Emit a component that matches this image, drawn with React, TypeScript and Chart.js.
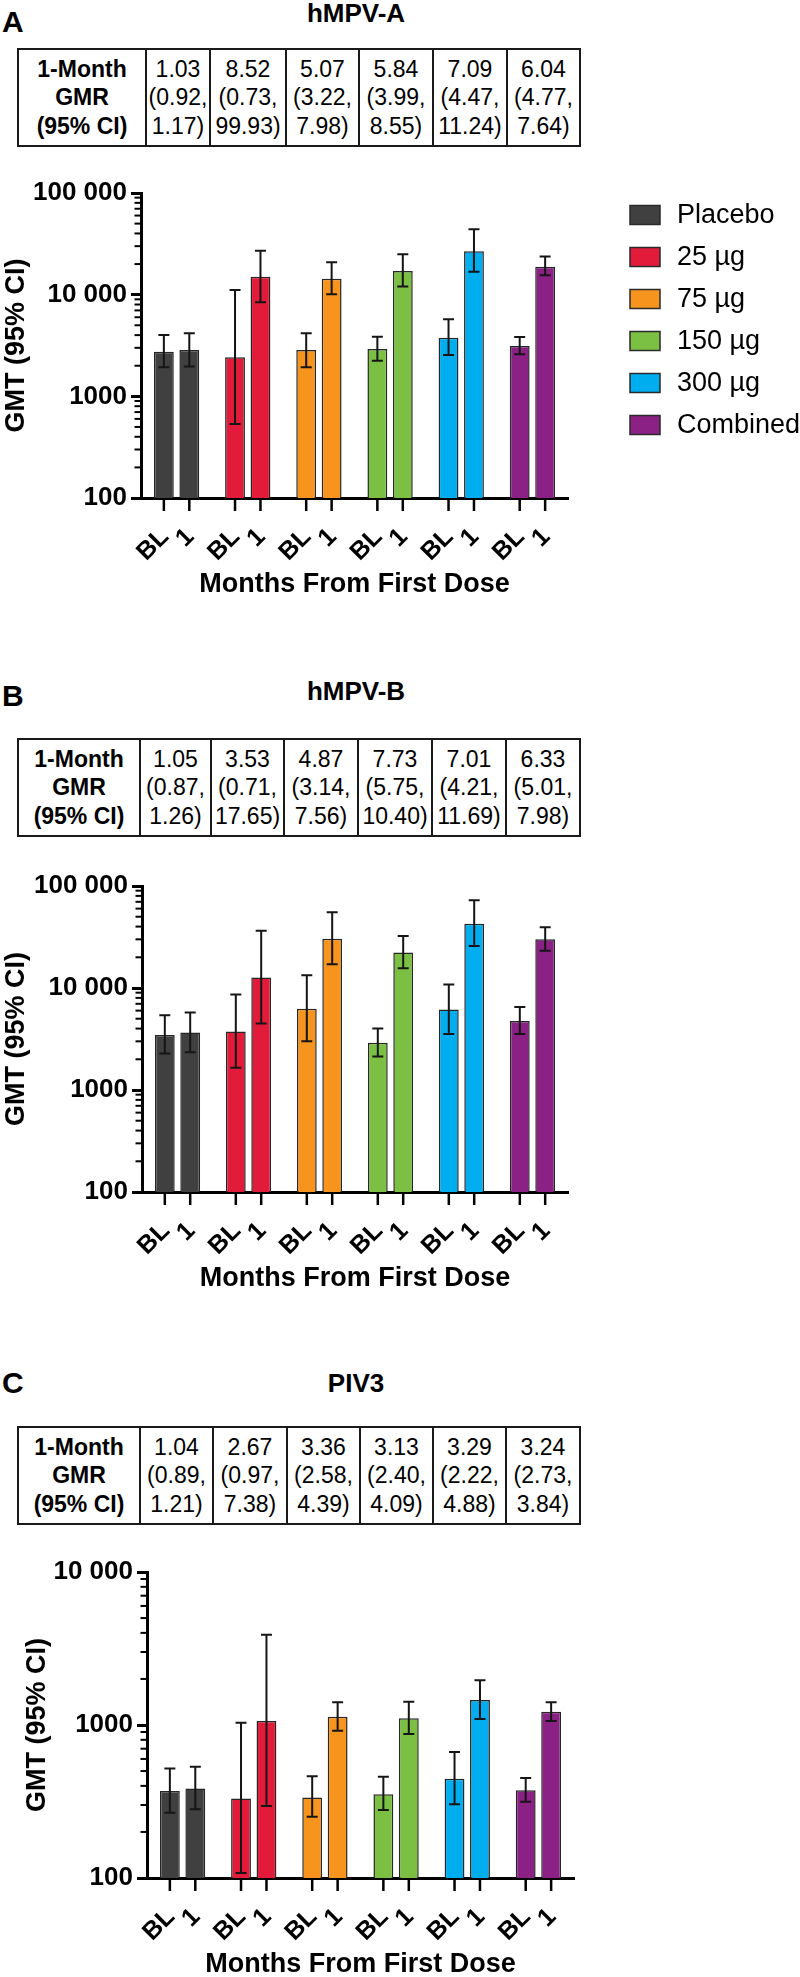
import React, { useEffect, useRef } from "react";
import { Chart, registerables } from "chart.js";

Chart.register(...registerables);

const FONT = "'Liberation Sans', Arial, Helvetica, sans-serif";

// ---- shared categories / labels ----
const groups = ["Placebo", "25 µg", "75 µg", "150 µg", "300 µg", "Combined"];
const groupColors = ["#404040", "#E31B3B", "#F7941D", "#7BC043", "#00ADEF", "#8B2185"];
const visits = ["BL", "1"];
const xAxisTitle = "Months From First Dose";
const yAxisTitle = "GMT (95% CI)";
const rowHeader = ["1-Month", "GMR", "(95% CI)"];

// ---- Panel A: hMPV-A ----
const aBL = [2750, 2420, 2860, 2920, 3770, 3130];
const aBLLo = [1930, 534, 1930, 2240, 2550, 2590];
const aBLHi = [4010, 11100, 4170, 3860, 5730, 3830];
const aM1 = [2860, 15000, 14300, 17100, 26700, 18800];
const aM1Lo = [1960, 8410, 10100, 12000, 16800, 15500];
const aM1Hi = [4170, 27100, 20800, 25000, 44000, 23800];
const gmrA = ["1.03", "8.52", "5.07", "5.84", "7.09", "6.04"];
const gmrALo = ["0.92", "0.73", "3.22", "3.99", "4.47", "4.77"];
const gmrAHi = ["1.17", "99.93", "7.98", "8.55", "11.24", "7.64"];

// ---- Panel B: hMPV-B ----
const bBL = [3470, 3750, 6250, 2900, 6170, 4740];
const bBLLo = [2280, 1650, 3010, 2130, 3550, 3550];
const bBLHi = [5420, 8650, 13300, 4010, 10800, 6500];
const bM1 = [3670, 12700, 30400, 22300, 42700, 30000];
const bM1Lo = [2350, 4490, 17100, 15600, 25800, 23200];
const bM1Hi = [5760, 36400, 55200, 32300, 72400, 39300];
const gmrB = ["1.05", "3.53", "4.87", "7.73", "7.01", "6.33"];
const gmrBLo = ["0.87", "0.71", "3.14", "5.75", "4.21", "5.01"];
const gmrBHi = ["1.26", "17.65", "7.56", "10.40", "11.69", "7.98"];

// ---- Panel C: PIV3 ----
const cBL = [370, 331, 336, 353, 445, 375];
const cBLLo = [267, 108, 251, 278, 303, 315];
const cBLHi = [520, 1035, 463, 459, 666, 450];
const cM1 = [385, 1062, 1134, 1106, 1458, 1222];
const cM1Lo = [281, 295, 918, 873, 1095, 1062];
const cM1Hi = [533, 3884, 1408, 1421, 1962, 1408];
const gmrC = ["1.04", "2.67", "3.36", "3.13", "3.29", "3.24"];
const gmrCLo = ["0.89", "0.97", "2.58", "2.40", "2.22", "2.73"];
const gmrCHi = ["1.21", "7.38", "4.39", "4.09", "4.88", "3.84"];

// ---- y tick values / labels ----
const yTicksAB = [100, 1000, 10000, 100000];
const yTickLabelsAB = ["100", "1000", "10 000", "100 000"];
const yTicksC = [100, 1000, 10000];
const yTickLabelsC = ["100", "1000", "10 000"];

// ---------- plugins ----------
const errorBarPlugin = {
  id: "errorBars",
  afterDatasetsDraw(chart: any) {
    const ctx = chart.ctx;
    const ys = chart.scales.y;
    ctx.save();
    ctx.strokeStyle = "#151515";
    ctx.lineWidth = 2;
    chart.data.datasets.forEach((ds: any, di: number) => {
      const meta = chart.getDatasetMeta(di);
      meta.data.forEach((el: any, i: number) => {
        const x = el.x;
        const yl = ys.getPixelForValue(ds.errLo[i]);
        const yh = ys.getPixelForValue(ds.errHi[i]);
        ctx.beginPath();
        ctx.moveTo(x, yl);
        ctx.lineTo(x, yh);
        ctx.moveTo(x - 5.5, yh);
        ctx.lineTo(x + 5.5, yh);
        ctx.moveTo(x - 5.5, yl);
        ctx.lineTo(x + 5.5, yl);
        ctx.stroke();
      });
    });
    ctx.restore();
  },
};

const axisDecorPlugin = {
  id: "axisDecor",
  afterDraw(chart: any) {
    const ctx = chart.ctx;
    const xs = chart.scales.x;
    const ys = chart.scales.y;
    const area = chart.chartArea;
    ctx.save();
    ctx.strokeStyle = "#000";
    // minor log ticks on the y axis
    ctx.lineWidth = 2;
    const e0 = Math.round(Math.log10(ys.min));
    const e1 = Math.round(Math.log10(ys.max));
    for (let e = e0; e < e1; e++) {
      for (let m = 2; m <= 9; m++) {
        const y = ys.getPixelForValue(m * Math.pow(10, e));
        ctx.beginPath();
        ctx.moveTo(area.left - 6.5, y);
        ctx.lineTo(area.left, y);
        ctx.stroke();
      }
    }
    // x ticks under every bar + rotated visit labels
    ctx.lineWidth = 2.5;
    ctx.fillStyle = "#000";
    ctx.font = `bold 25px ${FONT}`;
    ctx.textAlign = "right";
    ctx.textBaseline = "middle";
    chart.data.datasets.forEach((ds: any, di: number) => {
      chart.getDatasetMeta(di).data.forEach((el: any) => {
        const x = el.x;
        ctx.beginPath();
        ctx.moveTo(x, xs.top);
        ctx.lineTo(x, xs.top + 13);
        ctx.stroke();
        ctx.save();
        ctx.translate(x + 1, xs.top + 35);
        ctx.rotate(-Math.PI / 4);
        ctx.fillText(visits[di], 0, 0);
        ctx.restore();
      });
    });
    ctx.restore();
  },
};

const legendPlugin = {
  id: "sideLegend",
  afterDraw(chart: any) {
    const ctx = chart.ctx;
    const a = chart.chartArea;
    ctx.save();
    ctx.font = `27px ${FONT}`;
    ctx.textBaseline = "middle";
    ctx.textAlign = "left";
    groups.forEach((g, i) => {
      const cy = a.top + 22 + i * 42;
      const x0 = a.right + 62;
      ctx.fillStyle = groupColors[i];
      ctx.fillRect(x0, cy - 9.5, 30, 19);
      ctx.strokeStyle = "#2a2a2a";
      ctx.lineWidth = 1.5;
      ctx.strokeRect(x0, cy - 9.5, 30, 19);
      ctx.fillStyle = "#000";
      ctx.fillText(g, x0 + 47, cy + 1);
    });
    ctx.restore();
  },
};

// ---------- components ----------
type PanelProps = {
  top: number;
  height: number;
  padLeft: number;
  yWidth: number;
  padRight: number;
  yMin: number;
  yMax: number;
  yTicks: number[];
  yTickLabels: string[];
  bl: number[];
  blLo: number[];
  blHi: number[];
  m1: number[];
  m1Lo: number[];
  m1Hi: number[];
  legend?: boolean;
};

function BarPanel(p: PanelProps) {
  const ref = useRef<HTMLCanvasElement | null>(null);
  useEffect(() => {
    if (!ref.current) return;
    const common = {
      backgroundColor: groupColors,
      borderColor: "#262626",
      borderWidth: 1.5,
      categoryPercentage: 0.715,
      barPercentage: 0.78,
    };
    const chart = new Chart(ref.current, {
      type: "bar",
      data: {
        labels: groups,
        datasets: [
          { label: visits[0], data: p.bl, errLo: p.blLo, errHi: p.blHi, ...common } as any,
          { label: visits[1], data: p.m1, errLo: p.m1Lo, errHi: p.m1Hi, ...common } as any,
        ],
      },
      options: {
        animation: false,
        responsive: false,
        maintainAspectRatio: false,
        layout: { padding: { top: 33, left: p.padLeft, right: p.padRight, bottom: 0 } },
        plugins: { legend: { display: false }, tooltip: { enabled: false } },
        scales: {
          x: {
            type: "category",
            z: 1,
            grid: { display: false },
            ticks: { display: false },
            border: { display: true, color: "#000", width: 3 },
            title: {
              display: true,
              text: xAxisTitle,
              color: "#000",
              font: { family: FONT, size: 27, weight: "bold" },
              padding: { top: 0, bottom: 1 },
            },
            afterFit: (s: any) => {
              s.height = 104;
            },
          },
          y: {
            type: "logarithmic",
            z: 1,
            min: p.yMin,
            max: p.yMax,
            afterBuildTicks: (s: any) => {
              s.ticks = p.yTicks.map((v) => ({ value: v }));
            },
            ticks: {
              autoSkip: false,
              padding: 4,
              color: "#000",
              font: { family: FONT, size: 26, weight: "bold" },
              callback: (_v: any, i: number) => p.yTickLabels[i],
            },
            grid: {
              display: true,
              drawOnChartArea: false,
              drawTicks: true,
              tickLength: 10,
              tickWidth: 3,
              tickColor: "#000",
              color: "#000",
            },
            border: { display: true, color: "#000", width: 3 },
            title: {
              display: true,
              text: yAxisTitle,
              color: "#000",
              font: { family: FONT, size: 27, weight: "bold" },
              padding: { top: 0, bottom: 0 },
            },
            afterFit: (s: any) => {
              s.width = p.yWidth;
            },
          },
        },
      } as any,
      plugins: p.legend
        ? [errorBarPlugin, axisDecorPlugin, legendPlugin]
        : [errorBarPlugin, axisDecorPlugin],
    });
    return () => chart.destroy();
  }, []);
  return (
    <canvas
      ref={ref}
      width={800}
      height={p.height}
      style={{ position: "absolute", left: 0, top: p.top, width: 800, height: p.height }}
    />
  );
}

const cellStyle: React.CSSProperties = {
  border: "2px solid #1a1a1a",
  padding: "4px 0",
  textAlign: "center",
  verticalAlign: "middle",
  whiteSpace: "nowrap",
};

function GmrTable(props: { top: number; widths: number[]; gmr: string[]; lo: string[]; hi: string[] }) {
  const { top, widths, gmr, lo, hi } = props;
  return (
    <table
      style={{
        position: "absolute",
        left: 17,
        top,
        width: 562,
        height: 99,
        borderCollapse: "collapse",
        tableLayout: "fixed",
        fontFamily: FONT,
        fontSize: 23,
        lineHeight: "28.5px",
        color: "#000",
      }}
    >
      <colgroup>
        {widths.map((w, i) => (
          <col key={i} style={{ width: w }} />
        ))}
      </colgroup>
      <tbody>
        <tr>
          <td style={{ ...cellStyle, fontWeight: "bold" }}>
            {rowHeader[0]}
            <br />
            {rowHeader[1]}
            <br />
            {rowHeader[2]}
          </td>
          {gmr.map((g, i) => (
            <td key={i} style={cellStyle}>
              {g}
              <br />({lo[i]},
              <br />
              {hi[i]})
            </td>
          ))}
        </tr>
      </tbody>
    </table>
  );
}

function PanelLetter(props: { text: string; top: number }) {
  return (
    <div
      style={{
        position: "absolute",
        left: 2,
        top: props.top,
        fontFamily: FONT,
        fontWeight: "bold",
        fontSize: 30,
        lineHeight: "30px",
      }}
    >
      {props.text}
    </div>
  );
}

function PanelTitle(props: { text: string; top: number }) {
  return (
    <div
      style={{
        position: "absolute",
        left: 206,
        width: 300,
        top: props.top,
        textAlign: "center",
        fontFamily: FONT,
        fontWeight: "bold",
        fontSize: 26,
        lineHeight: "26px",
      }}
    >
      {props.text}
    </div>
  );
}

export default function App() {
  return (
    <div
      style={{
        position: "absolute",
        left: 0,
        top: 0,
        width: 800,
        height: 1977,
        overflow: "hidden",
        background: "#fff",
        color: "#000",
        fontFamily: FONT,
      }}
    >
      {/* Panel A */}
      <PanelLetter text="A" top={7} />
      <PanelTitle text="hMPV-A" top={0} />
      <GmrTable top={48} widths={[128, 64, 76, 73, 74, 74, 73]} gmr={gmrA} lo={gmrALo} hi={gmrAHi} />
      <BarPanel
        top={160}
        height={442}
        padLeft={0}
        yWidth={141}
        padRight={232}
        yMin={100}
        yMax={100000}
        yTicks={yTicksAB}
        yTickLabels={yTickLabelsAB}
        bl={aBL}
        blLo={aBLLo}
        blHi={aBLHi}
        m1={aM1}
        m1Lo={aM1Lo}
        m1Hi={aM1Hi}
        legend
      />

      {/* Panel B */}
      <PanelLetter text="B" top={681} />
      <PanelTitle text="hMPV-B" top={678} />
      <GmrTable top={738} widths={[122, 71, 73, 74, 74, 74, 74]} gmr={gmrB} lo={gmrBLo} hi={gmrBHi} />
      <BarPanel
        top={853}
        height={443}
        padLeft={0}
        yWidth={142}
        padRight={232}
        yMin={100}
        yMax={100000}
        yTicks={yTicksAB}
        yTickLabels={yTickLabelsAB}
        bl={bBL}
        blLo={bBLLo}
        blHi={bBLHi}
        m1={bM1}
        m1Lo={bM1Lo}
        m1Hi={bM1Hi}
      />

      {/* Panel C */}
      <PanelLetter text="C" top={1368} />
      <PanelTitle text="PIV3" top={1370} />
      <GmrTable top={1426} widths={[122, 73, 74, 73, 73, 73, 74]} gmr={gmrC} lo={gmrCLo} hi={gmrCHi} />
      <BarPanel
        top={1539}
        height={443}
        padLeft={21}
        yWidth={126}
        padRight={226}
        yMin={100}
        yMax={10000}
        yTicks={yTicksC}
        yTickLabels={yTickLabelsC}
        bl={cBL}
        blLo={cBLLo}
        blHi={cBLHi}
        m1={cM1}
        m1Lo={cM1Lo}
        m1Hi={cM1Hi}
      />
    </div>
  );
}
